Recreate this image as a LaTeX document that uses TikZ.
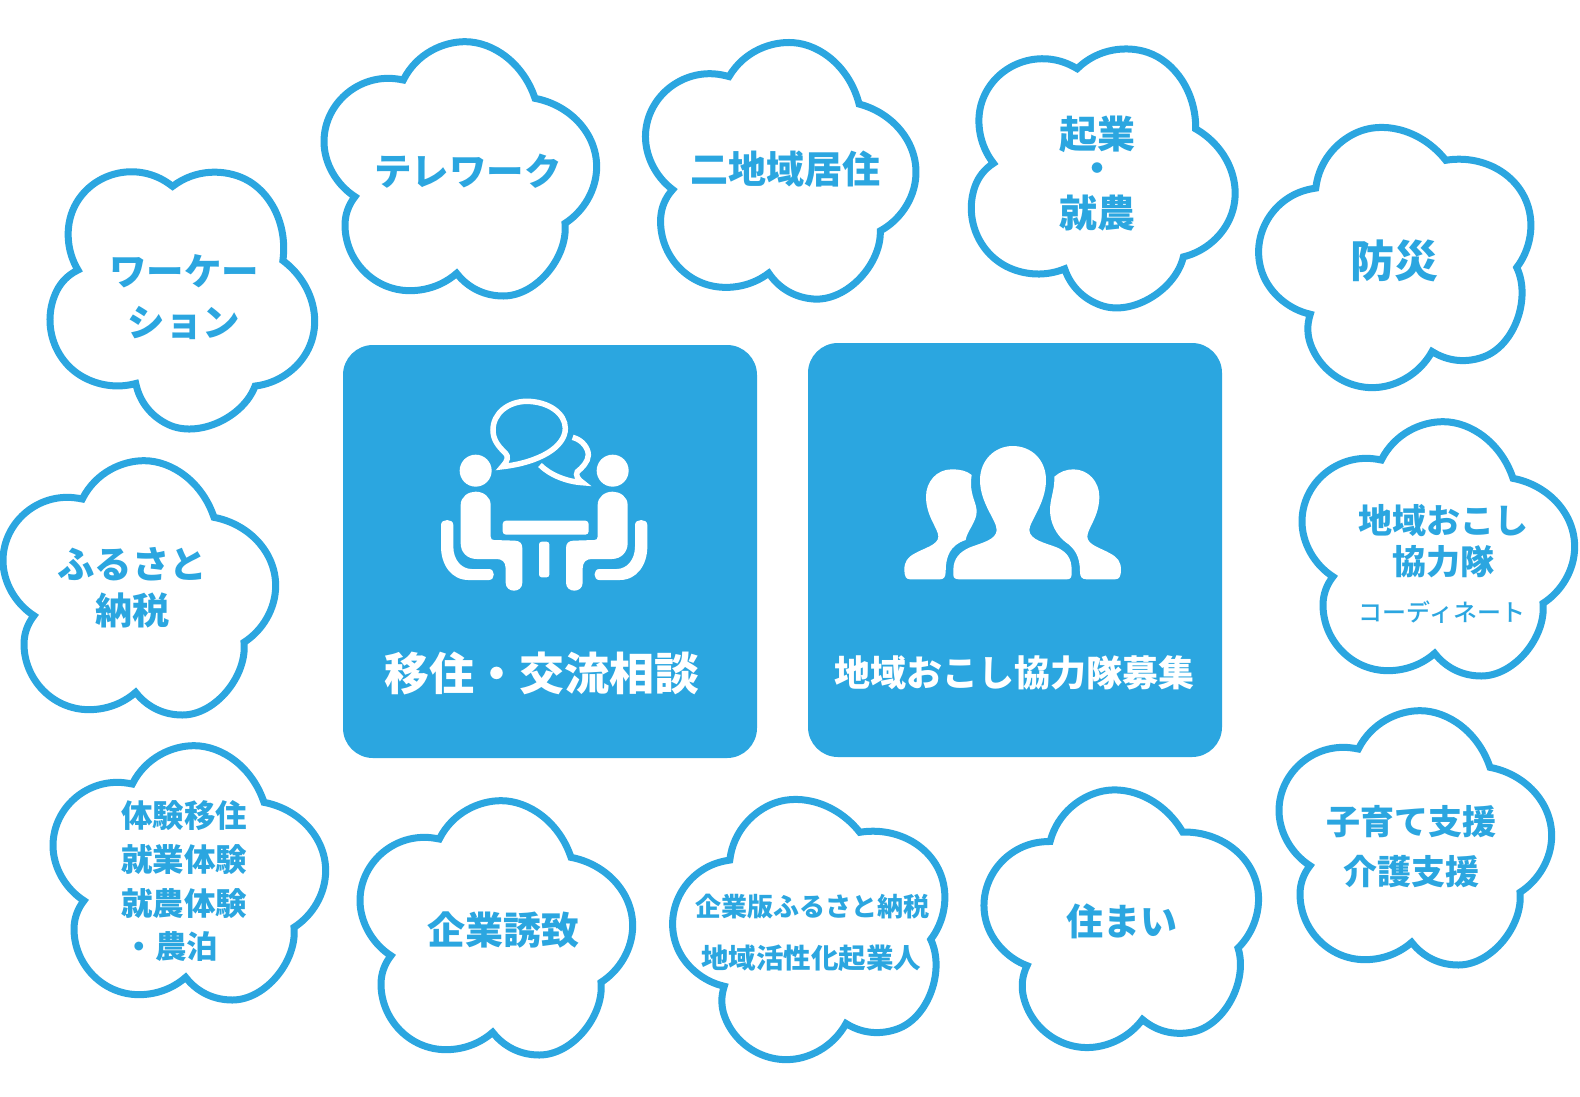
\documentclass[tikz,border=0pt]{standalone}
\usepackage{fontspec}
\setmainfont{Noto Sans CJK JP}
\newfontfamily\medfont{Noto Sans CJK JP Medium}
\definecolor{blu}{HTML}{2BA6E0}
\tikzset{
  petal/.style={draw=blu,line width=7pt,line join=miter,fill=white},
  box/.style={fill=blu,rounded corners=30pt},
  lbl/.style={text=blu,inner sep=0pt,align=center},
  whitelbl/.style={text=white,inner sep=0pt,align=center},
  bubble/.style={draw=white,line width=5.5pt,line join=miter}
}
\newcommand{\flowerat}[3]{\begin{scope}[shift={(#1,#2)},rotate=#3,scale=1/3,shift={(-459,-432)}]
  \draw[petal] (280,150) .. controls (320,70) and (400,35) .. (465,35)
    .. controls (550,35) and (640,100) .. (675,205)
    .. controls (780,225) and (860,310) .. (860,410)
    .. controls (860,480) and (820,545) .. (765,580)
    .. controls (775,680) and (680,798) .. (580,798)
    .. controls (525,798) and (475,775) .. (440,730)
    .. controls (400,765) and (350,782) .. (300,782)
    .. controls (190,782) and (105,690) .. (105,585)
    .. controls (105,555) and (115,525) .. (135,500)
    .. controls (80,465) and (42,400) .. (42,335)
    .. controls (42,230) and (130,145) .. (235,145)
    .. controls (250,145) and (265,147) .. (280,150) -- cycle;
\end{scope}}
\newcommand{\fs}[1]{\fontsize{#1pt}{#1pt}\selectfont\bfseries}
\newcommand{\fm}[1]{\fontsize{#1pt}{#1pt}\selectfont\medfont}
\begin{document}
\begin{tikzpicture}[x=1pt,y=-1pt]
\useasboundingbox (0,0) rectangle (1580,1096);
\fill[white] (0,0) rectangle (1580,1096);
% flowers
\flowerat{463}{174}{0}
\flowerat{142}{593}{0}
\flowerat{1418}{843}{0}
\flowerat{1441}{554}{0}
\flowerat{499}{933}{0}
\flowerat{192}{878}{0}
\flowerat{1103}{177}{-19}
\flowerat{782}{174.5}{-4}
\flowerat{185}{297}{-26}
\flowerat{1404}{256}{20}
\flowerat{818}{928}{20}
\flowerat{1128}{921}{12}
% boxes
\fill[box] (343,345) rectangle (757,758);
\fill[box] (808,343) rectangle (1222,757);
% icon 1
\begin{scope}[shift={(340,340)},scale=1/3]
  \fill[white] (407,392) circle[radius=48];
  \fill[white] (818,392) circle[radius=48];
  \fill[white,rounded corners=3.3pt] (488,542) rectangle (746,584);
  \fill[white,rounded corners=2.7pt] (597,605) rectangle (628,712);
  \foreach \m in {1,-1}{
    \begin{scope}[shift={(612.5,0)},xscale=\m,shift={(-612.5,0)}]
      \fill[white] (362,495) .. controls (362,470) and (385,455) .. (407,455)
        .. controls (430,455) and (452,470) .. (452,495) -- (452,590)
        .. controls (452,597) and (456,600) .. (462,600) -- (525,602)
        .. controls (540,603) and (547,610) .. (547,625) -- (547,728)
        .. controls (547,760) and (497,760) .. (497,728) -- (497,685)
        .. controls (497,665) and (485,657) .. (470,657) -- (410,657)
        .. controls (380,657) and (362,635) .. (362,610) -- cycle;
      \fill[white] (303,555) .. controls (303,535) and (340,535) .. (340,555)
        -- (340,620) .. controls (340,660) and (365,687) .. (395,687)
        -- (447,687) .. controls (466,687) and (466,720) .. (447,720)
        -- (385,720) .. controls (335,720) and (303,675) .. (303,620) -- cycle;
    \end{scope}
  }
  \draw[bubble] (487,380) .. controls (505,360) and (505,350) .. (497,340)
    .. controls (470,315) and (459,295) .. (459,270)
    .. controls (459,220) and (505,184) .. (560,184)
    .. controls (625,184) and (676,220) .. (676,265)
    .. controls (676,320) and (600,367) .. (487,380) -- cycle;
  \draw[bubble] (698,292) .. controls (728,300) and (745,325) .. (745,345)
    .. controls (745,365) and (725,385) .. (712,395)
    .. controls (705,405) and (715,420) .. (728,428)
    .. controls (680,425) and (630,405) .. (600,375);
\end{scope}
% icon 2
\begin{scope}[shift={(800,340)},scale=1/3]
  \fill[white] (478,718) -- (800,718) .. controls (812,718) and (815,712) .. (815,700) -- (815,690)
    .. controls (815,655) and (800,635) .. (770,622)
    .. controls (740,610) and (688,600) .. (688,570)
    .. controls (688,545) and (738,490) .. (738,420)
    .. controls (738,360) and (695,318) .. (638,318)
    .. controls (585,318) and (540,360) .. (540,420)
    .. controls (540,490) and (590,540) .. (590,570)
    .. controls (590,600) and (540,610) .. (510,622)
    .. controls (480,635) and (460,655) .. (460,690) -- (460,705)
    .. controls (460,715) and (468,718) .. (478,718) -- cycle;
  \fill[white] (330,718) -- (420,718) .. controls (432,718) and (437,710) .. (437,695)
    .. controls (437,650) and (450,615) .. (497,600)
    .. controls (500,575) and (530,545) .. (530,515)
    .. controls (530,490) and (513,470) .. (513,430)
    .. controls (513,420) and (514,412) .. (515,405)
    .. controls (500,392) and (480,388) .. (455,388)
    .. controls (410,388) and (378,425) .. (378,470)
    .. controls (378,530) and (415,565) .. (415,590)
    .. controls (415,615) and (370,625) .. (345,640)
    .. controls (322,652) and (313,665) .. (313,690)
    .. controls (313,708) and (318,718) .. (330,718) -- cycle;
  \fill[white] (945,718) -- (860,718) .. controls (845,718) and (840,710) .. (840,695)
    .. controls (840,650) and (825,625) .. (795,605)
    .. controls (770,585) and (750,550) .. (750,510)
    .. controls (750,480) and (763,450) .. (763,420) -- (763,410)
    .. controls (780,395) and (800,388) .. (820,388)
    .. controls (865,388) and (898,425) .. (898,470)
    .. controls (898,530) and (862,565) .. (862,590)
    .. controls (862,615) and (905,625) .. (930,640)
    .. controls (953,652) and (963,665) .. (963,690)
    .. controls (963,708) and (958,718) .. (945,718) -- cycle;
\end{scope}
% labels
\node[whitelbl,font=\fs{45}] (ijuu) at (542,673) {移住・交流相談};
\node[whitelbl,font=\fs{36}] (boshu) at (1014,673) {地域おこし協力隊募集};
\node[lbl,font=\fs{37.5}] (tele) at (468,171) {テレワーク};
\node[lbl,font=\fs{38}] (nichi) at (785,169) {二地域居住};
\node[lbl,font=\fs{38}] (kigyo) at (1097,134) {起業};
\node[lbl,font=\fs{38}] (dot) at (1097,173) {・};
\node[lbl,font=\fs{38}] (shuno) at (1097,213) {就農};
\node[lbl,font=\fs{44}] (bosai) at (1394,261) {防災};
\node[lbl,font=\fs{37.5}] (wa) at (184,271) {ワーケー};
\node[lbl,font=\fs{37.5}] (shon) at (184,323) {ション};
\node[lbl,font=\fs{37.5}] (furu) at (132,564) {ふるさと};
\node[lbl,font=\fs{37}] (nozei) at (132,610) {納税};
\node[lbl,font=\fs{34}] (chiiki) at (1443,521) {地域おこし};
\node[lbl,font=\fs{34}] (kyo) at (1443,562) {協力隊};
\node[lbl,font=\fm{24}] (coord) at (1442,612) {コーディネート};
\node[lbl,font=\fs{34}] (kosodate) at (1411,822) {子育て支援};
\node[lbl,font=\fs{34}] (kaigo) at (1411,872) {介護支援};
\node[lbl,font=\fs{37}] (sumai) at (1122,921) {住まい};
\node[lbl,font=\fs{26}] (kban) at (812,907) {企業版ふるさと納税};
\node[lbl,font=\fs{27.5}] (kkasei) at (811,958) {地域活性化起業人};
\node[lbl,font=\fs{38}] (yuchi) at (503,930) {企業誘致};
\node[lbl,font=\fs{31.5}] (t1) at (184,816) {体験移住};
\node[lbl,font=\fs{31.5}] (t2) at (184,860) {就業体験};
\node[lbl,font=\fs{31.5}] (t3) at (184,904) {就農体験};
\node[lbl,font=\fs{31.5}] (t4) at (171,947) {・農泊};
\end{tikzpicture}
\end{document}
